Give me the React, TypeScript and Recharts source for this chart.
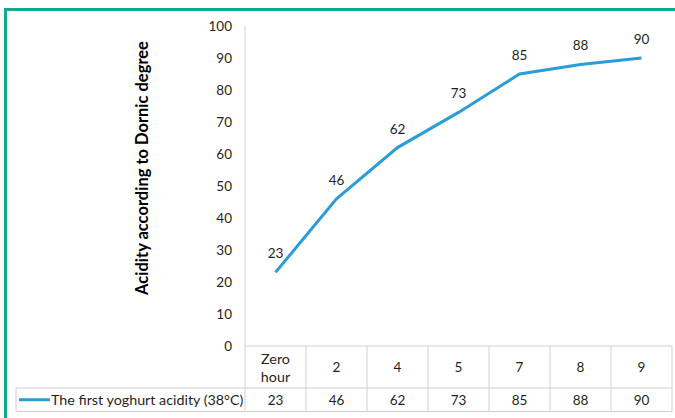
import React from 'react';
import { LineChart, Line, XAxis, YAxis, LabelList } from 'recharts';

// Acidity readings (Dornic degree) by incubation hour
const hours = ['Zero hour', '2', '4', '5', '7', '8', '9'];
const acidity = [23, 46, 62, 73, 85, 88, 90];
const yTicks = [0, 10, 20, 30, 40, 50, 60, 70, 80, 90, 100];
const seriesName = 'The first yoghurt acidity (38°C)';

const data = hours.map((h, i) => ({ hour: h, acidity: acidity[i] }));

const FONT = 'Lato, "Open Sans", sans-serif';
const TEXT = '#1f1f1f';
const GRID = '#d0d0d0';
const LINE = '#2a9dd8';

const W = 675;
const H = 418;
const M = { top: 26, right: 3, left: 0, bottom: 6 };
const Y_AXIS_W = 245;
const X_AXIS_H = 66;
const HEADER_H = 42;
const ROW_H = 23.5;
const LEGEND_LEFT = 16;

const plotW = W - M.left - M.right - Y_AXIS_W;
const colW = plotW / hours.length;

// each x tick draws its own column of the data table; the first one also draws the legend cell
const TableTick = (props: any) => {
  const { x, y, payload, index } = props;
  const half = colW / 2;
  const rowTop = y + HEADER_H;
  const bottom = rowTop + ROW_H;
  const label: string = payload.value;
  const words = label.split(' ');
  return (
    <g fontFamily={FONT} fontSize={13.5} fill={TEXT}>
      {index === 0 && (
        <g>
          <line x1={x - half} y1={y} x2={x - half} y2={bottom} stroke={GRID} />
          <line x1={LEGEND_LEFT} y1={rowTop} x2={x - half} y2={rowTop} stroke={GRID} />
          <line x1={LEGEND_LEFT} y1={bottom} x2={x - half} y2={bottom} stroke={GRID} />
          <line x1={LEGEND_LEFT} y1={rowTop} x2={LEGEND_LEFT} y2={bottom} stroke={GRID} />
          <line x1={LEGEND_LEFT + 3} y1={rowTop + ROW_H / 2} x2={LEGEND_LEFT + 34} y2={rowTop + ROW_H / 2} stroke={LINE} strokeWidth={3} />
          <text x={LEGEND_LEFT + 35} y={rowTop + ROW_H / 2} dominantBaseline="central" fontSize={14.3}>
            {seriesName}
          </text>
        </g>
      )}
      <line x1={x + half} y1={y} x2={x + half} y2={bottom} stroke={GRID} />
      <line x1={x - half} y1={rowTop} x2={x + half} y2={rowTop} stroke={GRID} />
      <line x1={x - half} y1={bottom} x2={x + half} y2={bottom} stroke={GRID} />
      {words.length > 1 ? (
        words.map((w, i) => (
          <text key={w} x={x} y={y + HEADER_H / 2 + (i - 0.5) * 18} textAnchor="middle" dominantBaseline="central" fontSize={14.3}>
            {w}
          </text>
        ))
      ) : (
        <text x={x} y={y + HEADER_H / 2} textAnchor="middle" dominantBaseline="central">
          {label}
        </text>
      )}
      <text x={x} y={rowTop + ROW_H / 2} textAnchor="middle" dominantBaseline="central">
        {acidity[index]}
      </text>
    </g>
  );
};

const AxisTitle = () => {
  const cx = 142;
  const cy = 168;
  return (
    <text
      x={cx}
      y={cy}
      transform={`rotate(-90, ${cx}, ${cy})`}
      textAnchor="middle"
      dominantBaseline="central"
      fontFamily={FONT}
      fontSize={16.5}
      fontWeight="bold"
      fill="#000"
    >
      Acidity according to Dornic degree
    </text>
  );
};

export default function App() {
  return (
    <div style={{ position: 'absolute', left: 0, top: 0, width: W, height: H, background: '#fff', overflow: 'hidden' }}>
      <div
        style={{
          position: 'absolute',
          left: 4,
          top: 8,
          width: W,
          height: H,
          borderLeft: '3px solid #14a98f',
          borderTop: '3px solid #14a98f',
        }}
      />
      <LineChart width={W} height={H} data={data} margin={M} style={{ position: 'absolute', left: 0, top: 0 }}>
        <XAxis
          dataKey="hour"
          height={X_AXIS_H}
          padding={{ left: colW / 2, right: colW / 2 }}
          axisLine={{ stroke: GRID }}
          tickLine={false}
          tickSize={0}
          tickMargin={0}
          interval={0}
          tick={<TableTick />}
        />
        <YAxis
          width={Y_AXIS_W}
          domain={[0, 100]}
          ticks={yTicks}
          interval={0}
          axisLine={{ stroke: GRID }}
          tickLine={false}
          tickMargin={7}
          tick={{ fontFamily: FONT, fontSize: 13.5, fill: TEXT }}
          label={<AxisTitle />}
        />
        <Line
          type="linear"
          dataKey="acidity"
          name={seriesName}
          stroke={LINE}
          strokeWidth={3}
          dot={false}
          isAnimationActive={false}
        >
          <LabelList dataKey="acidity" position="top" offset={14} style={{ fontFamily: FONT, fontSize: 13.5, fill: TEXT }} />
        </Line>
      </LineChart>
    </div>
  );
}
